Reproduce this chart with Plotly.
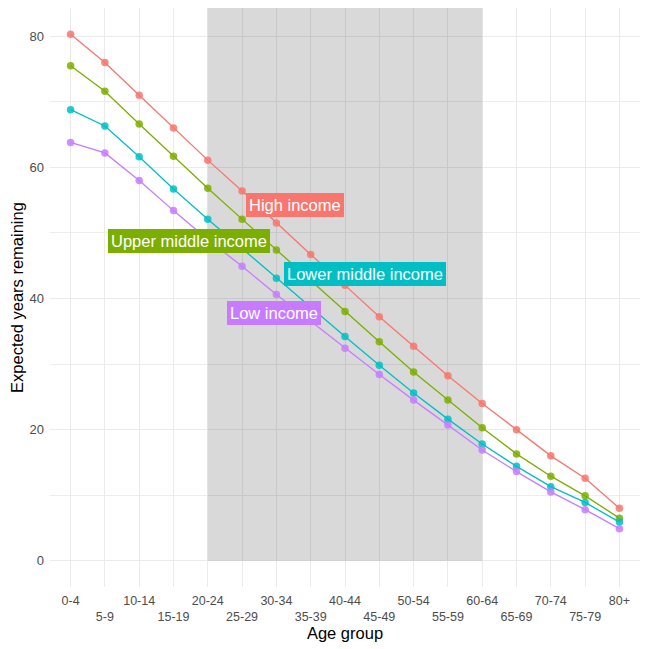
import plotly.graph_objects as go

age_groups = ["0-4", "5-9", "10-14", "15-19", "20-24", "25-29", "30-34", "35-39",
              "40-44", "45-49", "50-54", "55-59", "60-64", "65-69", "70-74", "75-79", "80+"]

high_income = [80.3, 76.0, 71.0, 66.0, 61.1, 56.4, 51.5, 46.7, 42.0, 37.2, 32.7, 28.2, 24.0, 20.0, 16.0, 12.6, 8.0]
upper_middle = [75.5, 71.6, 66.6, 61.7, 56.8, 52.1, 47.4, 42.8, 38.0, 33.4, 28.8, 24.5, 20.3, 16.3, 12.9, 9.9, 6.5]
lower_middle = [68.8, 66.3, 61.6, 56.7, 52.1, 47.6, 43.1, 38.7, 34.2, 29.8, 25.6, 21.6, 17.8, 14.4, 11.3, 8.9, 5.9]
low_income = [63.8, 62.2, 58.0, 53.4, 49.0, 44.9, 40.6, 36.5, 32.4, 28.4, 24.5, 20.7, 16.9, 13.6, 10.5, 7.8, 4.9]

series_names = ["High income", "Upper middle income", "Lower middle income", "Low income"]
series_values = [high_income, upper_middle, lower_middle, low_income]
series_colors = ["#F8766D", "#7CAE00", "#00BFC4", "#C77CFF"]

# label positions (category index, value)
label_x = [6.55, 3.46, 8.58, 5.93]
label_y = [54.3, 48.8, 43.8, 37.8]

shade_start, shade_end = "20-24", "60-64"

y_ticks = [0, 20, 40, 60, 80]

font_family = "Liberation Sans, Arial, Helvetica, sans-serif"

fig = go.Figure()

for name, vals, col in zip(series_names, series_values, series_colors):
    fig.add_trace(go.Scatter(
        x=age_groups, y=vals, mode="lines+markers", name=name,
        line=dict(color=col, width=1.3),
        marker=dict(color=col, size=7.5, opacity=0.85),
        showlegend=False,
    ))

xi = {a: i for i, a in enumerate(age_groups)}
fig.add_shape(type="rect", xref="x", yref="y",
              x0=xi[shade_start], x1=xi[shade_end], y0=0, y1=84.3,
              fillcolor="rgba(0,0,0,0.15)", line=dict(width=0), layer="between")

for name, col, lx, ly in zip(series_names, series_colors, label_x, label_y):
    fig.add_annotation(x=lx, y=ly, xref="x", yref="y", text=name, showarrow=False,
                       font=dict(color="white", size=16.5, family=font_family),
                       bgcolor=col, borderpad=3, bordercolor=col, borderwidth=0)

ticktext = [a if i % 2 == 0 else "<br>" + a for i, a in enumerate(age_groups)]

# the page body has an 8px default margin, so the figure is drawn 8px smaller
fig.update_layout(
    width=641, height=641,
    paper_bgcolor="white", plot_bgcolor="white",
    margin=dict(l=42, r=9, t=0, b=62),
    font=dict(family=font_family, color="#4d4d4d", size=12.5),
    xaxis=dict(
        type="category", categoryorder="array", categoryarray=age_groups,
        tickmode="array", tickvals=age_groups, ticktext=ticktext,
        range=[-0.6, 16.6], showgrid=True, gridcolor="#ebebeb", gridwidth=1,
        zeroline=False, showline=False, ticks="", ticklabelstandoff=4,
        automargin=False,
        title=dict(text="Age group", font=dict(size=16.5, color="black"), standoff=2),
    ),
    yaxis=dict(
        range=[-4.0, 84.3], tickmode="array", tickvals=y_ticks,
        showgrid=True, gridcolor="#ebebeb", gridwidth=1,
        minor=dict(tickmode="array", tickvals=[10, 30, 50, 70], showgrid=True,
                   gridcolor="#ededed", gridwidth=0.6),
        zeroline=False, showline=False, ticks="", automargin=False,
        ticklabelstandoff=5, tickfont=dict(size=13),
        title=dict(text="Expected years remaining", font=dict(size=16.5, color="black"), standoff=6),
    ),
)

fig.write_html("out.html")
